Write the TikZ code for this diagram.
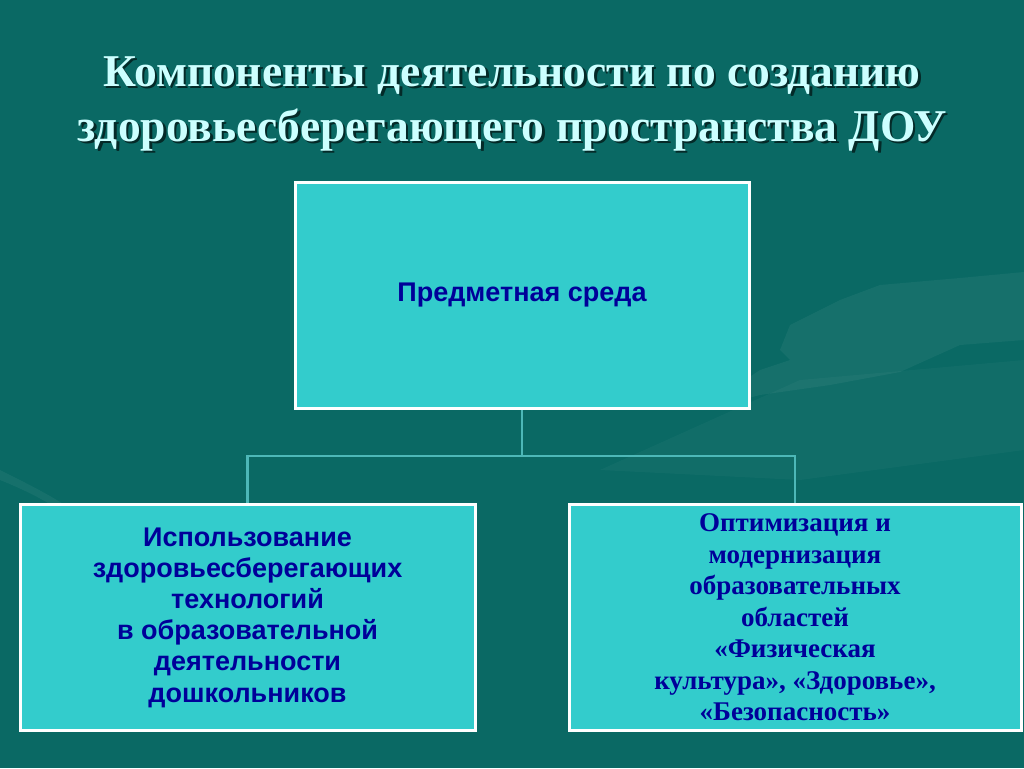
\documentclass[tikz,border=0pt]{standalone}
\usepackage{fontspec}
\setmainfont{Liberation Serif}
\newfontfamily\arialfont{Liberation Sans}
\definecolor{bgteal}{HTML}{0A6964}
\definecolor{boxfill}{HTML}{33CCCC}
\definecolor{txtblue}{HTML}{000099}
\definecolor{linkcol}{HTML}{4DB8B8}
\definecolor{titlecol}{HTML}{CCFFFF}
\definecolor{shadowcol}{HTML}{042A28}
\newcommand{\shadowtext}[1]{\makebox[0pt][l]{\hspace{2.5pt}\raisebox{-2.5pt}{\textcolor{shadowcol}{#1}}}#1}
\tikzset{
  box/.style={draw=white, line width=3pt, fill=boxfill, minimum width=452pt, minimum height=226pt, inner sep=0pt, align=center, text=txtblue},
  sansbox/.style={box, font=\arialfont\bfseries\fontsize{27}{31.2}\selectfont},
  serifbox/.style={box, font=\bfseries\fontsize{27}{31.5}\selectfont},
  link/.style={draw=linkcol, line width=2.5pt},
  ttl/.style={anchor=base, inner sep=0pt, text=titlecol, font=\fontsize{45.5}{52}\selectfont\bfseries},
  deco/.style={fill=white, opacity=0.05, draw=none}
}
\begin{document}
\begin{tikzpicture}[x=1pt, y=-1pt]
\useasboundingbox (0,0) rectangle (1024,768);
\fill[bgteal] (0,0) rectangle (1024,768);
% background decorations
\fill[deco] (790,325) -- (840,300) -- (880,285) -- (960,278) -- (1024,272) -- (1024,340) -- (960,345) -- (900,372) -- (830,385) -- (760,395) -- (700,410) -- (760,370) -- (790,360) -- (780,350) -- cycle;
\fill[deco] (0,470) .. controls (40,490) and (70,505) .. (90,525) -- (80,525) .. controls (55,505) and (30,492) .. (0,480) -- cycle;
\fill[white, opacity=0.03] (600,470) -- (800,380) -- (1024,360) -- (1024,450) -- (800,480) -- cycle;
% title
\node[ttl] (t1) at (512,86) {\shadowtext{Компоненты деятельности по созданию}};
\node[ttl] (t2) at (512,141) {\shadowtext{здоровьесберегающего пространства ДОУ}};
% boxes
\node[sansbox, minimum width=454pt] (top) at (522,295.5) {Предметная среда};
\node[sansbox, minimum width=455pt] (left) at (247.5,617.5) {Использование\\здоровьесберегающих\\технологий\\в образовательной\\деятельности\\дошкольников};
\node[serifbox] (right) at (795,617.5) {Оптимизация и\\модернизация\\образовательных\\областей\\«Физическая\\культура», «Здоровье»,\\«Безопасность»};
% connectors
\coordinate (bus) at (522,456);
\draw[link] (top.south) -- (bus);
\draw[link] (bus) -| (left.north);
\draw[link] (bus) -| (right.north);
\end{tikzpicture}
\end{document}
